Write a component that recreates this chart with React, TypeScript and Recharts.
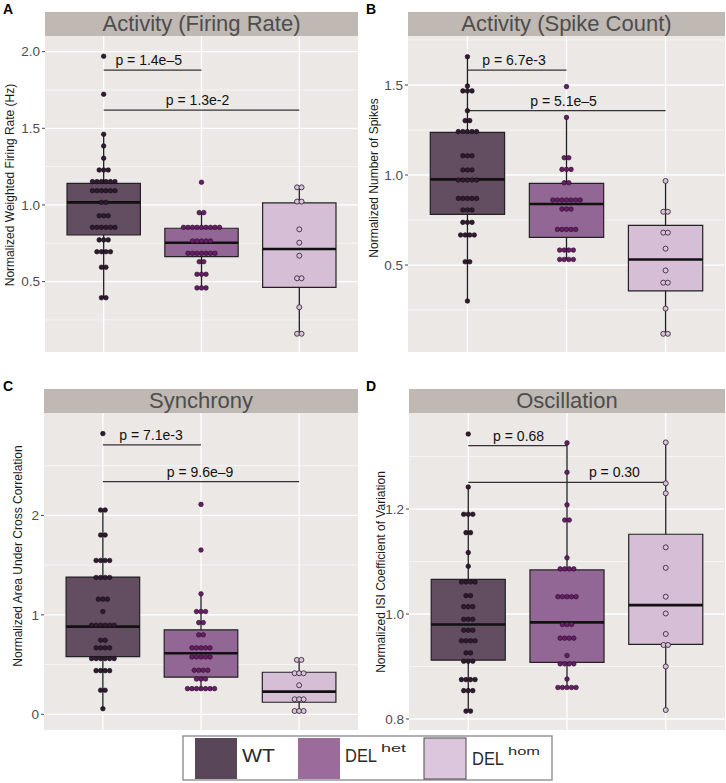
import React from "react";
import {
  CartesianGrid,
  ComposedChart,
  ReferenceArea,
  ReferenceDot,
  ReferenceLine,
  Scatter,
  XAxis,
  YAxis,
} from "recharts";

// [value, number of dots stacked at that value]
type Row = [number, number];
// lower whisker, Q1, median, Q3, upper whisker
type Box = [number, number, number, number, number];
type Bracket = { from: number; to: number; y: number; text: string; at: number };

const GROUPS = ["WT", "DEL het", "DEL hom"];

// A: firing rate
const firingWT: Row[] = [[1.97, 1], [1.722, 1], [1.461, 1], [1.385, 1], [1.305, 1], [1.228, 3], [1.152, 6], [1.093, 6], [1.017, 2], [0.93, 3], [0.854, 6], [0.772, 3], [0.695, 4], [0.594, 2], [0.395, 2]];
const firingHet: Row[] = [[1.148, 1], [0.95, 2], [0.854, 9], [0.765, 5], [0.685, 7], [0.63, 2], [0.548, 3], [0.459, 3]];
const firingHom: Row[] = [[1.115, 2], [1.022, 2], [0.841, 1], [0.754, 1], [0.669, 1], [0.522, 2], [0.333, 1], [0.16, 2]];
const firingBoxes: Box[] = [[0.395, 0.804, 1.017, 1.141, 1.461], [0.459, 0.663, 0.754, 0.848, 0.95], [0.16, 0.463, 0.713, 1.013, 1.115]];
const firingP: Bracket[] = [
  { from: 1, to: 2, y: 1.879, text: "p = 1.4e–5", at: 1.46 },
  { from: 1, to: 3, y: 1.618, text: "p = 1.3e-2", at: 1.96 },
];

// B: spike count
const spikesWT: Row[] = [[1.657, 1], [1.494, 1], [1.467, 3], [1.357, 1], [1.302, 2], [1.241, 5], [1.107, 3], [1.028, 3], [0.972, 5], [0.87, 5], [0.806, 3], [0.737, 3], [0.667, 4], [0.518, 2], [0.3, 1]];
const spikesHet: Row[] = [[1.491, 1], [1.32, 1], [1.096, 2], [1.031, 3], [0.957, 2], [0.861, 7], [0.811, 3], [0.698, 5], [0.583, 4], [0.531, 4]];
const spikesHom: Row[] = [[0.967, 1], [0.796, 2], [0.68, 2], [0.591, 1], [0.47, 1], [0.402, 2], [0.258, 1], [0.118, 2]];
const spikesBoxes: Box[] = [[0.3, 0.781, 0.976, 1.237, 1.657], [0.531, 0.654, 0.839, 0.954, 1.32], [0.118, 0.356, 0.531, 0.72, 0.967]];
const spikesP: Bracket[] = [
  { from: 1, to: 2, y: 1.582, text: "p = 6.7e-3", at: 1.47 },
  { from: 1, to: 3, y: 1.357, text: "p = 5.1e–5", at: 1.97 },
];

// C: synchrony
const syncWT: Row[] = [[2.823, 1], [2.054, 2], [1.803, 2], [1.547, 4], [1.376, 4], [1.158, 3], [1.033, 1], [0.896, 6], [0.745, 2], [0.668, 4], [0.56, 6], [0.439, 4], [0.242, 2], [0.056, 1]];
const syncHet: Row[] = [[2.111, 1], [1.652, 1], [1.211, 1], [1.033, 3], [0.922, 2], [0.799, 2], [0.668, 5], [0.577, 5], [0.443, 4], [0.355, 3], [0.258, 7]];
const syncHom: Row[] = [[0.547, 2], [0.413, 3], [0.292, 1], [0.151, 3], [0.033, 3]];
const syncBoxes: Box[] = [[0.056, 0.58, 0.882, 1.38, 2.054], [0.258, 0.373, 0.614, 0.849, 1.211], [0.033, 0.121, 0.228, 0.423, 0.547]];
const syncP: Bracket[] = [
  { from: 1, to: 2, y: 2.709, text: "p = 7.1e-3", at: 1.49 },
  { from: 1, to: 3, y: 2.339, text: "p = 9.6e–9", at: 1.99 },
];

// D: oscillation
const oscWT: Row[] = [[1.343, 1], [1.242, 1], [1.19, 3], [1.155, 2], [1.117, 1], [1.091, 1], [1.061, 4], [1.035, 2], [1.014, 3], [0.99, 3], [0.969, 3], [0.949, 4], [0.926, 2], [0.91, 3], [0.875, 4], [0.854, 3], [0.815, 2]];
const oscHet: Row[] = [[1.326, 1], [1.27, 1], [1.208, 1], [1.179, 2], [1.107, 1], [1.086, 4], [1.033, 5], [0.98, 3], [0.954, 4], [0.921, 1], [0.905, 4], [0.876, 1], [0.86, 5]];
const oscHom: Row[] = [[1.327, 1], [1.249, 1], [1.23, 1], [1.127, 1], [1.088, 1], [1.033, 1], [1.001, 1], [0.962, 1], [0.941, 2], [0.9, 1], [0.817, 1]];
const oscBoxes: Box[] = [[0.815, 0.912, 0.98, 1.066, 1.242], [0.86, 0.908, 0.984, 1.084, 1.326], [0.817, 0.942, 1.017, 1.152, 1.327]];
const oscP: Bracket[] = [
  { from: 1, to: 2, y: 1.321, text: "p = 0.68", at: 1.51 },
  { from: 1, to: 3, y: 1.251, text: "p = 0.30", at: 2.48 },
];

const FONT = '"Liberation Sans", Arial, Helvetica, sans-serif';
const BOX_FILL = ["#634d61", "#936795", "#d5bed6"];
const DOT_FILL = ["#2e1b2d", "#661f64", "#d8c2d9"];
const DOT_STROKE = ["#170c17", "#2c0c2b", "#3b2b3b"];
const LEGEND_FILL = ["#5a4659", "#9a6b9b", "#dcc6de"];
const DOT_STEP = 0.046; // spacing of side-by-side dots, in category units
const HALF_BOX = 0.375;

function stackDots(rows: Row[], center: number) {
  const pts: { x: number; y: number }[] = [];
  rows.forEach(([y, n]) => {
    for (let k = 0; k < n; k++) pts.push({ x: center + (k - (n - 1) / 2) * DOT_STEP, y });
  });
  return pts;
}

const dotShape = (g: number) => (props: any) => (
  <circle
    cx={props.cx}
    cy={props.cy}
    r={g === 2 ? 2.5 : 2.3}
    fill={DOT_FILL[g]}
    stroke={DOT_STROKE[g]}
    strokeWidth={g === 2 ? 0.9 : 0.6}
  />
);

type PanelCfg = {
  letter: string;
  heading: string;
  yTitle: string;
  left: number;
  top: number;
  height: number;
  marginTop: number;
  marginRight: number;
  axisWidth: number;
  titleX: number;
  titleY: number;
  domain: [number, number];
  ticks: number[];
  minor: number[];
  fmt: (v: number) => string;
  rows: Row[][];
  boxes: Box[];
  brackets: Bracket[];
};

const panels: PanelCfg[] = [
  {
    letter: "A", heading: "Activity (Firing Rate)", yTitle: "Normalized Weighted Firing Rate (Hz)",
    left: 0, top: 0, height: 356, marginTop: 36, marginRight: 5, axisWidth: 45, titleX: 10, titleY: 185,
    domain: [0.041, 2.102], ticks: [0.5, 1, 1.5, 2], minor: [0.25, 0.75, 1.25, 1.75],
    fmt: (v) => v.toFixed(1), rows: [firingWT, firingHet, firingHom], boxes: firingBoxes, brackets: firingP,
  },
  {
    letter: "B", heading: "Activity (Spike Count)", yTitle: "Normalized Number of Spikes",
    left: 363, top: 0, height: 356, marginTop: 36, marginRight: 1, axisWidth: 45, titleX: 11, titleY: 178,
    domain: [0.017, 1.772], ticks: [0.5, 1, 1.5], minor: [0.25, 0.75, 1.25, 1.75],
    fmt: (v) => v.toFixed(1), rows: [spikesWT, spikesHet, spikesHom], boxes: spikesBoxes, brackets: spikesP,
  },
  {
    letter: "C", heading: "Synchrony", yTitle: "Normalized Area Under Cross Correlation",
    left: 0, top: 360, height: 374, marginTop: 53, marginRight: 5, axisWidth: 44, titleX: 17.5, titleY: 196,
    domain: [-0.158, 3.03], ticks: [0, 1, 2], minor: [0.5, 1.5, 2.5],
    fmt: (v) => String(v), rows: [syncWT, syncHet, syncHom], boxes: syncBoxes, brackets: syncP,
  },
  {
    letter: "D", heading: "Oscillation", yTitle: "Normalized ISI Coefficient of Variation",
    left: 363, top: 360, height: 374, marginTop: 53, marginRight: 1, axisWidth: 46, titleX: 17.5, titleY: 212,
    domain: [0.779, 1.383], ticks: [0.8, 1, 1.2], minor: [0.9, 1.1, 1.3],
    fmt: (v) => v.toFixed(1), rows: [oscWT, oscHet, oscHom], boxes: oscBoxes, brackets: oscP,
  },
];

function Panel({ cfg }: { cfg: PanelCfg }) {
  const width = 363;
  const stripTop = cfg.marginTop - 24;
  return (
    <div style={{ position: "absolute", left: cfg.left, top: cfg.top, width, height: cfg.height }}>
      <div
        style={{
          position: "absolute", left: 3, top: stripTop - 10, fontFamily: FONT,
          fontWeight: "bold", fontSize: 14, lineHeight: "14px", color: "#000",
        }}
      >
        {cfg.letter}
      </div>
      <div
        style={{
          position: "absolute", left: cfg.axisWidth, top: stripTop,
          width: width - cfg.axisWidth - cfg.marginRight, height: 24,
          background: "#bfb8b3", color: "#4d4d4d", fontFamily: FONT, fontSize: 22,
          lineHeight: "24px", textAlign: "center",
        }}
      >
        {cfg.heading}
      </div>
      <ComposedChart
        width={width}
        height={cfg.height}
        margin={{ top: cfg.marginTop, right: cfg.marginRight, bottom: 4, left: 0 }}
      >
        <CartesianGrid
          fill="#ebe8e5"
          stroke="#ffffff"
          strokeWidth={1.3}
          horizontalValues={cfg.ticks}
          verticalValues={[1, 2, 3]}
        />
        <CartesianGrid stroke="#ffffff" strokeWidth={0.6} vertical={false} horizontalValues={cfg.minor} />
        <XAxis type="number" dataKey="x" domain={[0.4, 3.6]} allowDataOverflow hide />
        <YAxis
          type="number"
          dataKey="y"
          domain={cfg.domain}
          allowDataOverflow
          ticks={cfg.ticks}
          interval={0}
          tickFormatter={cfg.fmt}
          width={cfg.axisWidth}
          axisLine={false}
          tickSize={3}
          tickMargin={2}
          tickLine={{ stroke: "#444" }}
          tick={{ fill: "#4d4d4d", fontSize: 13.5, fontFamily: FONT }}
          label={() => (
            <text
              x={cfg.titleX}
              y={cfg.titleY}
              transform={`rotate(-90 ${cfg.titleX} ${cfg.titleY})`}
              textAnchor="middle"
              dominantBaseline="central"
              fontFamily={FONT}
              fontSize={12}
              fill="#1a1a1a"
            >
              {cfg.yTitle}
            </text>
          )}
        />
        {cfg.boxes.map((b, i) => (
          <ReferenceLine
            key={`wl${i}`}
            segment={[{ x: i + 1, y: b[0] }, { x: i + 1, y: b[1] }]}
            stroke="#1e1e1e"
            strokeWidth={1.3}
          />
        ))}
        {cfg.boxes.map((b, i) => (
          <ReferenceLine
            key={`wu${i}`}
            segment={[{ x: i + 1, y: b[3] }, { x: i + 1, y: b[4] }]}
            stroke="#1e1e1e"
            strokeWidth={1.3}
          />
        ))}
        {cfg.boxes.map((b, i) => (
          <ReferenceArea
            key={`box${i}`}
            x1={i + 1 - HALF_BOX}
            x2={i + 1 + HALF_BOX}
            y1={b[1]}
            y2={b[3]}
            fill={BOX_FILL[i]}
            fillOpacity={1}
            stroke="#222"
            strokeWidth={1.2}
          />
        ))}
        {cfg.boxes.map((b, i) => (
          <ReferenceLine
            key={`med${i}`}
            segment={[{ x: i + 1 - HALF_BOX, y: b[2] }, { x: i + 1 + HALF_BOX, y: b[2] }]}
            stroke="#111"
            strokeWidth={2.6}
          />
        ))}
        {cfg.rows.map((rows, g) => (
          <Scatter
            key={GROUPS[g]}
            name={GROUPS[g]}
            data={stackDots(rows, g + 1)}
            dataKey="y"
            shape={dotShape(g)}
            isAnimationActive={false}
          />
        ))}
        {cfg.brackets.map((br) => (
          <ReferenceLine
            key={`br${br.text}`}
            segment={[{ x: br.from, y: br.y }, { x: br.to, y: br.y }]}
            stroke="#333"
            strokeWidth={1.2}
          />
        ))}
        {cfg.brackets.map((br) => (
          <ReferenceDot
            key={`lb${br.text}`}
            x={br.at}
            y={br.y}
            r={0}
            fill="none"
            stroke="none"
            label={{ value: br.text, position: "top", offset: 5, fill: "#111", fontSize: 14, fontFamily: FONT }}
          />
        ))}
      </ComposedChart>
    </div>
  );
}

function GroupLegend() {
  const items = [
    { main: "WT", sup: "", sq: 13, tx: 60, base: 27, mainLen: 33, supX: 0, supBase: 0, supLen: 0 },
    { main: "DEL", sup: "het", sq: 116, tx: 163, base: 27, mainLen: 32, supX: 199, supBase: 17, supLen: 25 },
    { main: "DEL", sup: "hom", sq: 242, tx: 290, base: 29.5, mainLen: 32, supX: 326, supBase: 20, supLen: 32 },
  ];
  return (
    <svg
      width={371}
      height={46}
      style={{ position: "absolute", left: 182, top: 735 }}
      fontFamily={FONT}
    >
      <rect x={1} y={1} width={369} height={44} fill="#fff" stroke="#8f8f8f" strokeWidth={1.4} />
      {items.map((it, i) => (
        <g key={i}>
          <rect
            x={it.sq}
            y={3}
            width={42}
            height={41}
            fill={LEGEND_FILL[i]}
            stroke={i === 2 ? "#4a4a4a" : "none"}
            strokeWidth={1}
          />
          <text
            x={it.tx}
            y={it.base}
            fontSize={19}
            fill="#2b2b2b"
            textLength={it.mainLen}
            lengthAdjust="spacingAndGlyphs"
          >
            {it.main}
          </text>
          {it.sup ? (
            <text
              x={it.supX}
              y={it.supBase}
              fontSize={11}
              fill="#2b2b2b"
              textLength={it.supLen}
              lengthAdjust="spacingAndGlyphs"
            >
              {it.sup}
            </text>
          ) : null}
        </g>
      ))}
    </svg>
  );
}

export default function App() {
  return (
    <div
      style={{
        position: "absolute", left: 0, top: 0, width: 726, height: 783,
        background: "#ffffff", overflow: "hidden",
      }}
    >
      {panels.map((p) => (
        <Panel key={p.letter} cfg={p} />
      ))}
      <GroupLegend />
    </div>
  );
}
